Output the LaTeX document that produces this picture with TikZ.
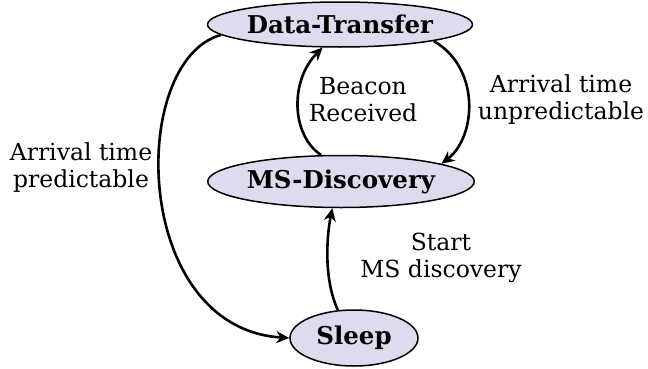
\documentclass[tikz,border=0pt]{standalone}
\usepackage{fontspec}
\setmainfont{DejaVu Serif}
\usepackage{color}
\usetikzlibrary{shapes.geometric,arrows.meta}
\definecolor{statefill}{RGB}{221,220,238}

\begin{document}
\begin{tikzpicture}[x=1pt,y=1pt,
  state/.style={ellipse,draw=black,line width=1.5pt,fill=statefill,inner sep=0pt,
    font=\fontsize{24.5}{27}\selectfont\bfseries},
  lbl/.style={align=center,inner sep=0pt,font=\fontsize{23.5}{27}\selectfont},
  trans/.style={draw=black,line width=2.6pt,-{Stealth[length=13pt,width=12pt]}}]
\useasboundingbox (0,0) rectangle (648,368);
% states:
\node[state,minimum width=265,minimum height=45] (dt) at (340,343.5) {Data-Transfer};
\node[state,minimum width=262,minimum height=52] (msd) at (341,186.5) {MS-Discovery};
\node[state,minimum width=128,minimum height=56] (sleep) at (354,30) {Sleep};
% transitions:
\path[trans] (dt.185) .. controls +(-93,-26) and +(-158,10) .. (sleep.west);
\path[trans] (msd.127) .. controls +(-30,20) and +(-33,-33) .. (dt.233);
\path[trans] (dt.-10) .. controls +(47,-27) and +(35,27) .. (msd.10);
\path[trans] (sleep.120) .. controls +(-14,30) and +(-6,-30) .. (msd.252);
% labels:
\node[lbl] (predict) at (81,200) {Arrival time\\predictable};
\node[lbl] (beacon) at (363,268) {Beacon\\Received};
\node[lbl] (unpredict) at (561,268) {Arrival time\\unpredictable};
\node[lbl] (start) at (441,110) {Start\\MS discovery};
\end{tikzpicture}
\end{document}
